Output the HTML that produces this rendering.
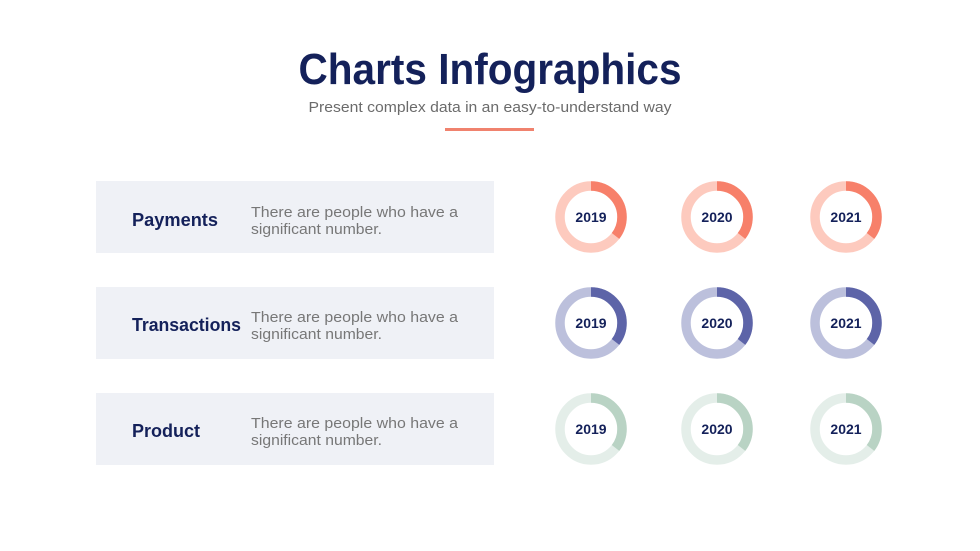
<!DOCTYPE html>
<html><head><meta charset="utf-8"><style>
html,body{margin:0;padding:0;background:#fff;}
svg{display:block;}
text{font-family:"Liberation Sans",sans-serif;}
</style></head><body>
<svg width="980" height="551" viewBox="0 0 980 551" xmlns="http://www.w3.org/2000/svg">
<rect width="980" height="551" fill="#fff"/>
<text x="490" y="84" text-anchor="middle" font-size="44" font-weight="bold" fill="#14215a" textLength="383" lengthAdjust="spacingAndGlyphs">Charts Infographics</text>
<text x="490" y="112" text-anchor="middle" font-size="15" fill="#6b6b6b" textLength="363" lengthAdjust="spacingAndGlyphs">Present complex data in an easy-to-understand way</text>
<rect x="445" y="128" width="89" height="3" fill="#f0826e"/>

<rect x="96" y="181" width="398" height="72" fill="#eff1f6"/>
<rect x="96" y="287" width="398" height="72" fill="#eff1f6"/>
<rect x="96" y="393" width="398" height="72" fill="#eff1f6"/>

<g font-weight="bold" font-size="18" fill="#14215a">
<text x="132" y="226" textLength="86" lengthAdjust="spacingAndGlyphs">Payments</text>
<text x="132" y="331" textLength="109" lengthAdjust="spacingAndGlyphs">Transactions</text>
<text x="132" y="437" textLength="68" lengthAdjust="spacingAndGlyphs">Product</text>
</g>
<g font-size="15" fill="#777">
<text x="251" y="217" textLength="207" lengthAdjust="spacingAndGlyphs">There are people who have a</text>
<text x="251" y="234" textLength="131" lengthAdjust="spacingAndGlyphs">significant number.</text>
<text x="251" y="322" textLength="207" lengthAdjust="spacingAndGlyphs">There are people who have a</text>
<text x="251" y="339" textLength="131" lengthAdjust="spacingAndGlyphs">significant number.</text>
<text x="251" y="428" textLength="207" lengthAdjust="spacingAndGlyphs">There are people who have a</text>
<text x="251" y="445" textLength="131" lengthAdjust="spacingAndGlyphs">significant number.</text>
</g>

<defs>
<g id="d"></g>
</defs>

<g fill="none" stroke-width="9.5">
<!-- row 1 -->
<circle cx="591" cy="217" r="31" stroke="#fdcabe"/>
<circle cx="591" cy="217" r="31" stroke="#f7806a" stroke-dasharray="69 200" transform="rotate(-90 591 217)"/>
<circle cx="717" cy="217" r="31" stroke="#fdcabe"/>
<circle cx="717" cy="217" r="31" stroke="#f7806a" stroke-dasharray="69 200" transform="rotate(-90 717 217)"/>
<circle cx="846" cy="217" r="31" stroke="#fdcabe"/>
<circle cx="846" cy="217" r="31" stroke="#f7806a" stroke-dasharray="69 200" transform="rotate(-90 846 217)"/>
<!-- row 2 -->
<circle cx="591" cy="323" r="31" stroke="#bcc0dc"/>
<circle cx="591" cy="323" r="31" stroke="#5d64a8" stroke-dasharray="69 200" transform="rotate(-90 591 323)"/>
<circle cx="717" cy="323" r="31" stroke="#bcc0dc"/>
<circle cx="717" cy="323" r="31" stroke="#5d64a8" stroke-dasharray="69 200" transform="rotate(-90 717 323)"/>
<circle cx="846" cy="323" r="31" stroke="#bcc0dc"/>
<circle cx="846" cy="323" r="31" stroke="#5d64a8" stroke-dasharray="69 200" transform="rotate(-90 846 323)"/>
<!-- row 3 -->
<circle cx="591" cy="429" r="31" stroke="#e4eee9"/>
<circle cx="591" cy="429" r="31" stroke="#b9d3c4" stroke-dasharray="69 200" transform="rotate(-90 591 429)"/>
<circle cx="717" cy="429" r="31" stroke="#e4eee9"/>
<circle cx="717" cy="429" r="31" stroke="#b9d3c4" stroke-dasharray="69 200" transform="rotate(-90 717 429)"/>
<circle cx="846" cy="429" r="31" stroke="#e4eee9"/>
<circle cx="846" cy="429" r="31" stroke="#b9d3c4" stroke-dasharray="69 200" transform="rotate(-90 846 429)"/>
</g>

<g font-weight="bold" font-size="14" fill="#14215a" text-anchor="middle">
<text x="591" y="222">2019</text><text x="717" y="222">2020</text><text x="846" y="222">2021</text>
<text x="591" y="328">2019</text><text x="717" y="328">2020</text><text x="846" y="328">2021</text>
<text x="591" y="434">2019</text><text x="717" y="434">2020</text><text x="846" y="434">2021</text>
</g>
</svg>
</body></html>
